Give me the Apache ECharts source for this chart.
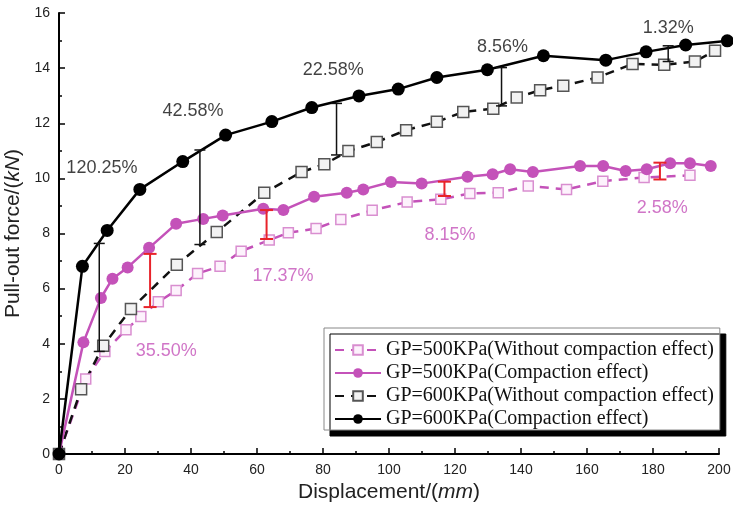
<!DOCTYPE html>
<html>
<head>
<meta charset="utf-8">
<script src="https://cdn.jsdelivr.net/npm/echarts@6/dist/echarts.min.js"></script>
<style>
  html, body { margin: 0; padding: 0; background: #fff; }
  #chart { width: 733px; height: 516px; }
</style>
</head>
<body>
<div id="chart"></div>
<script>
// Pull-out force vs displacement for two grouting pressures
var xTicks = [0, 20, 40, 60, 80, 100, 120, 140, 160, 180, 200];
var yTicks = [0, 2, 4, 6, 8, 10, 12, 14, 16];

var gp500NoCompX = [0, 8.1, 13.9, 20.3, 24.8, 30.1, 35.5, 42.0, 48.8, 55.2, 63.7, 69.5, 77.9, 85.4, 94.9, 105.5, 115.7, 124.5, 133.1, 142.2, 153.8, 164.8, 177.3, 191.2];
var gp500NoCompY = [0, 2.72, 3.72, 4.51, 4.99, 5.52, 5.93, 6.55, 6.81, 7.36, 7.76, 8.03, 8.18, 8.51, 8.84, 9.14, 9.24, 9.45, 9.48, 9.72, 9.60, 9.90, 10.03, 10.11];

var gp500CompX = [0, 7.4, 12.7, 16.2, 20.8, 27.3, 35.5, 43.7, 49.6, 61.9, 68.0, 77.3, 87.2, 92.2, 100.6, 109.9, 123.8, 131.4, 136.7, 143.6, 157.9, 164.9, 171.7, 178.1, 185.2, 191.2, 197.5];
var gp500CompY = [0, 4.05, 5.66, 6.36, 6.77, 7.48, 8.35, 8.53, 8.65, 8.90, 8.85, 9.33, 9.48, 9.60, 9.87, 9.81, 10.06, 10.15, 10.33, 10.23, 10.45, 10.45, 10.27, 10.33, 10.55, 10.55, 10.45];

var gp600NoCompX = [0, 6.7, 13.4, 21.8, 35.7, 47.8, 62.2, 73.5, 80.4, 87.7, 96.3, 105.2, 114.5, 122.5, 131.6, 138.7, 145.8, 152.8, 163.2, 173.8, 183.4, 192.7, 198.8];
var gp600NoCompY = [0, 2.35, 3.93, 5.26, 6.87, 8.05, 9.48, 10.23, 10.51, 10.99, 11.32, 11.75, 12.05, 12.41, 12.53, 12.93, 13.20, 13.36, 13.66, 14.15, 14.12, 14.24, 14.63];

var gp600CompX = [0, 7.1, 14.6, 24.5, 37.5, 50.5, 64.5, 76.6, 90.9, 102.8, 114.5, 129.8, 146.8, 165.7, 177.9, 189.9, 202.5];
var gp600CompY = [0, 6.81, 8.11, 9.60, 10.61, 11.57, 12.06, 12.57, 12.99, 13.24, 13.66, 13.94, 14.45, 14.29, 14.59, 14.84, 14.99];

// Gap bars between curves: [x, lower, upper]
var gap600 = [[12.2, 3.72, 7.64], [42.7, 7.60, 11.03], [84.1, 10.85, 12.72], [134.1, 12.63, 14.02], [184.6, 14.24, 14.81]];
var gap500 = [[27.6, 5.33, 7.26], [62.9, 7.80, 8.85], [116.8, 9.36, 9.88], [182.1, 9.96, 10.57]];

// Increase labels: [x, y, text]
var pct600 = [[13.0, 10.39, '120.25%'], [40.6, 12.45, '42.58%'], [83.1, 13.93, '22.58%'], [134.4, 14.75, '8.56%'], [184.6, 15.44, '1.32%']];
var pct500 = [[32.5, 3.72, '35.50%'], [67.9, 6.47, '17.37%'], [118.5, 7.96, '8.15%'], [182.8, 8.93, '2.58%']];

var seriesNames = [
  'GP=500KPa(Without compaction effect)',
  'GP=500KPa(Compaction effect)',
  'GP=600KPa(Without compaction effect)',
  'GP=600KPa(Compaction effect)'
];

var MAG = '#c452b9';
var MAG_LIGHT = '#d98ed0';
var TICK_FONT = 'Liberation Sans';

function zip(xs, ys) { return xs.map(function (x, i) { return [x, ys[i]]; }); }

function gapBars(color, width, cap) {
  return function (params, api) {
    var x = api.value(0);
    var lo = api.coord([x, api.value(1)]);
    var hi = api.coord([x, api.value(2)]);
    var st = { stroke: color, lineWidth: width };
    return {
      type: 'group',
      children: [
        { type: 'line', shape: { x1: lo[0], y1: lo[1], x2: hi[0], y2: hi[1] }, style: st },
        { type: 'line', shape: { x1: lo[0] - cap, y1: lo[1], x2: lo[0] + cap, y2: lo[1] }, style: st },
        { type: 'line', shape: { x1: hi[0] - cap, y1: hi[1], x2: hi[0] + cap, y2: hi[1] }, style: st }
      ]
    };
  };
}

function pctSeries(data, color) {
  return {
    type: 'scatter',
    data: data,
    symbolSize: 0,
    silent: true,
    z: 5,
    label: {
      show: true,
      position: 'inside',
      formatter: function (p) { return p.data[2]; },
      fontFamily: 'Liberation Sans',
      fontSize: 18,
      color: color
    }
  };
}

var titleRich = {
  a: { fontFamily: 'Liberation Sans', fontSize: 21, color: '#222' },
  b: { fontFamily: 'Liberation Sans', fontSize: 21, fontStyle: 'italic', color: '#222' }
};

var chart = echarts.init(document.getElementById('chart'), null, { renderer: 'canvas' });

chart.setOption({
  animation: false,
  backgroundColor: '#fff',
  grid: { left: 59, right: 14, top: 13, bottom: 62, containLabel: false, outerBoundsMode: 'none' },
  xAxis: {
    type: 'value',
    min: xTicks[0],
    max: xTicks[xTicks.length - 1],
    interval: 20,
    name: '{a|Displacement/(}{b|mm}{a|)}',
    nameLocation: 'middle',
    nameGap: 28,
    nameTextStyle: { rich: titleRich },
    axisLine: { lineStyle: { color: '#000', width: 2 } },
    axisTick: { inside: true, length: 6, lineStyle: { color: '#000', width: 1.5 } },
    minorTick: { show: true, splitNumber: 2, length: 3, lineStyle: { color: '#000', width: 1.5 } },
    splitLine: { show: false },
    axisLabel: { fontFamily: TICK_FONT, fontSize: 14, color: '#222', margin: 9 }
  },
  yAxis: {
    type: 'value',
    min: yTicks[0],
    max: yTicks[yTicks.length - 1],
    interval: 2,
    name: '{a|Pull-out force/(}{b|kN}{a|)}',
    nameLocation: 'middle',
    nameGap: 31,
    nameRotate: 90,
    nameTextStyle: { rich: titleRich },
    axisLine: { show: true, lineStyle: { color: '#000', width: 2 } },
    axisTick: { show: true, inside: true, length: 6, lineStyle: { color: '#000', width: 1.5 } },
    minorTick: { show: true, splitNumber: 2, length: 3, lineStyle: { color: '#000', width: 1.5 } },
    splitLine: { show: false },
    axisLabel: { fontFamily: TICK_FONT, fontSize: 14, color: '#222', margin: 9 }
  },
  legend: {
    orient: 'vertical',
    left: 324,
    top: 328,
    padding: [12, 6, 1, 10],
    itemWidth: 46,
    itemHeight: 12,
    itemGap: 3,
    backgroundColor: '#fff',
    borderColor: '#888',
    borderWidth: 1,
    shadowColor: '#000',
    shadowBlur: 0,
    shadowOffsetX: 6,
    shadowOffsetY: 6,
    textStyle: { fontFamily: 'Liberation Serif', fontSize: 20, color: '#111' },
    data: seriesNames
  },
  series: [
    {
      name: seriesNames[0],
      type: 'line',
      data: zip(gp500NoCompX, gp500NoCompY),
      symbol: 'rect',
      symbolSize: 10,
      itemStyle: { color: '#fdf2fc', borderColor: MAG_LIGHT, borderWidth: 1.5 },
      lineStyle: { color: MAG, width: 2.5, type: [9, 7] },
      z: 3
    },
    {
      name: seriesNames[1],
      type: 'line',
      data: zip(gp500CompX, gp500CompY),
      symbol: 'circle',
      symbolSize: 12,
      itemStyle: { color: MAG, borderColor: MAG, borderWidth: 0 },
      lineStyle: { color: MAG, width: 2.5 },
      z: 4
    },
    {
      name: seriesNames[2],
      type: 'line',
      data: zip(gp600NoCompX, gp600NoCompY),
      symbol: 'rect',
      symbolSize: 11,
      itemStyle: { color: '#f2f2f2', borderColor: '#555', borderWidth: 1.5 },
      lineStyle: { color: '#111', width: 2.5, type: [9, 7] },
      z: 3
    },
    {
      name: seriesNames[3],
      type: 'line',
      data: zip(gp600CompX, gp600CompY),
      symbol: 'circle',
      symbolSize: 13,
      clip: false,
      itemStyle: { color: '#000' },
      lineStyle: { color: '#000', width: 2.5 },
      z: 4
    },
    {
      type: 'custom',
      data: gap600,
      renderItem: gapBars('#111', 1.5, 5.5),
      silent: true,
      z: 6
    },
    {
      type: 'custom',
      data: gap500,
      renderItem: gapBars('#e8232a', 2, 6.5),
      silent: true,
      z: 6
    },
    pctSeries(pct600, '#111'),
    pctSeries(pct500, MAG)
  ]
});
</script>
</body>
</html>
